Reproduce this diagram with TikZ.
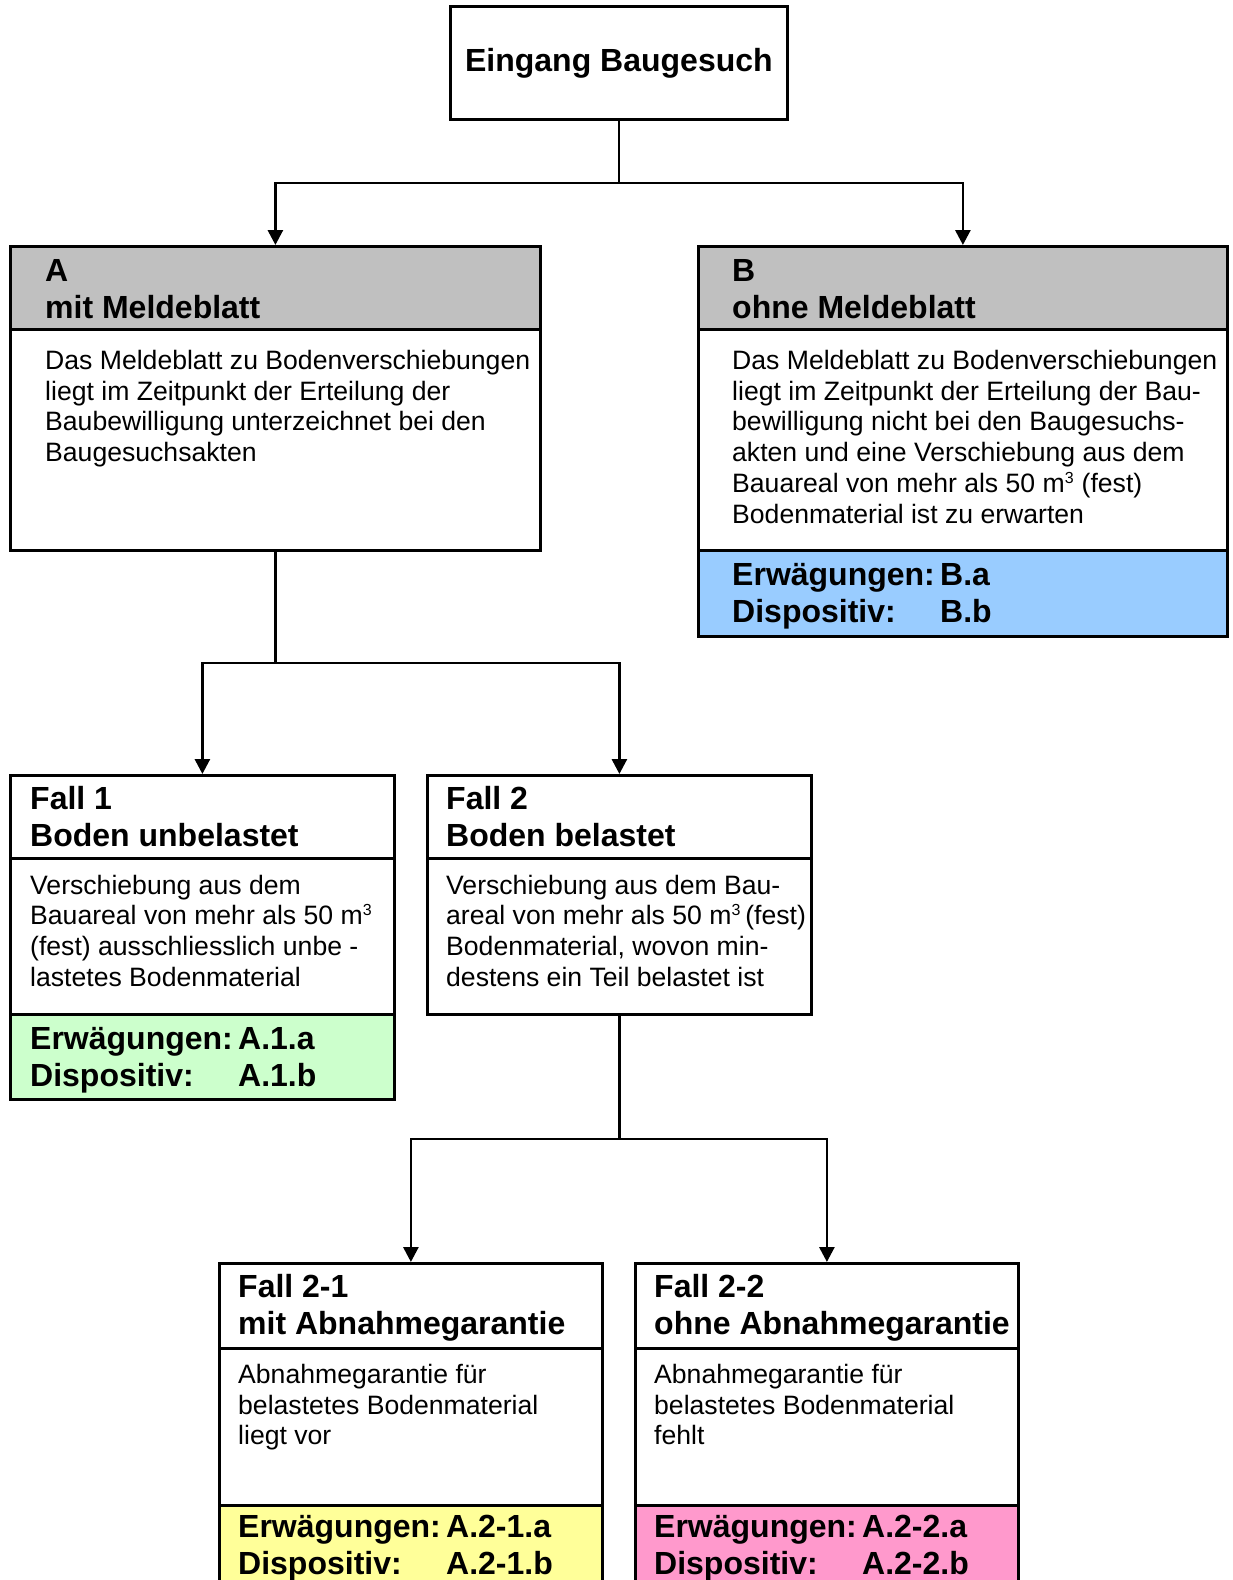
\documentclass[tikz,border=0pt]{standalone}
\usepackage{fontspec}
\setmainfont{Liberation Sans}
\usetikzlibrary{arrows.meta, positioning, calc}

\definecolor{kopfgrau}{HTML}{C0C0C0}
\definecolor{blau}{HTML}{99CCFF}
\definecolor{gruen}{HTML}{CCFFCC}
\definecolor{gelb}{HTML}{FFFF99}
\definecolor{rosa}{HTML}{FF99CC}

\newcommand{\kopffont}{\fontsize{32}{37}\selectfont\bfseries}
\newcommand{\inhaltfont}{\fontsize{26.6}{30.7}\selectfont}
\newcommand{\kubik}{m\textsuperscript{\fontsize{16}{16}\selectfont 3}}
\newcommand{\zeilen}[1]{\begin{tabular}[t]{@{}l@{}}#1\end{tabular}}
\newcommand{\verweis}[2]{\zeilen{\makebox[208pt][l]{Erwägungen:}#1\\\makebox[208pt][l]{Dispositiv:}#2}}

\tikzset{
    rahmen/.style 2 args={draw, line width=2.8pt, anchor=north west, inner sep=0pt,
        minimum width=#1, minimum height=#2},
    titel/.style={anchor=base west, inner sep=0pt, font=\kopffont},
    inhalt/.style={anchor=base west, inner sep=0pt, font=\inhaltfont},
    linie/.style={line width=2.8pt},
    pfeil/.style={line width=2.8pt, -{Triangle[width=15pt,length=15pt]}}
}

\begin{document}
\begin{tikzpicture}[x=1pt, y=-1pt]
    \useasboundingbox (0,0) rectangle (1233,1580);
    \begin{scope}
    \clip (0,0) rectangle (1233,1580);

    % Eingang
    \node[rahmen={337pt}{113pt}, font=\kopffont] (start) at (449,5) {Eingang Baugesuch};

    % A und B
    \node[rahmen={530pt}{83pt}, fill=kopfgrau] (Akopf) at (9,245) {};
    \node[rahmen={530pt}{221pt}] (Afeld) at (9,328) {};
    \node[rahmen={529pt}{83pt}, fill=kopfgrau] (Bkopf) at (697,245) {};
    \node[rahmen={529pt}{221pt}] (Bfeld) at (697,328) {};
    \node[rahmen={529pt}{86pt}, fill=blau] (Bfuss) at (697,549) {};

    \node[titel] (Atitel) at ([shift={(36,36.5)}]Akopf.north west) {\zeilen{A\\mit Meldeblatt}};
    \node[inhalt] (Atext) at ([shift={(36,41.5)}]Afeld.north west)
        {\zeilen{Das Meldeblatt zu Bodenverschiebungen\\liegt im Zeitpunkt der Erteilung der\\
         Baubewilligung unterzeichnet bei den\\Baugesuchsakten}};
    \node[titel] (Btitel) at ([shift={(35,36.5)}]Bkopf.north west) {\zeilen{B\\ohne Meldeblatt}};
    \node[inhalt] (Btext) at ([shift={(35,41.5)}]Bfeld.north west)
        {\zeilen{Das Meldeblatt zu Bodenverschiebungen\\liegt im Zeitpunkt der Erteilung der Bau-\\
         bewilligung nicht bei den Baugesuchs-\\akten und eine Verschiebung aus dem\\
         Bauareal von mehr als 50 \kubik{} (fest)\\Bodenmaterial ist zu erwarten}};
    \node[titel] (Bverweis) at ([shift={(35,36.5)}]Bfuss.north west) {\verweis{B.a}{B.b}};

    % Fall 1 und Fall 2
    \node[rahmen={384pt}{83pt}] (F1kopf) at (9,774) {};
    \node[rahmen={384pt}{156pt}] (F1feld) at (9,857) {};
    \node[rahmen={384pt}{85pt}, fill=gruen] (F1fuss) at (9,1013) {};
    \node[rahmen={384pt}{83pt}] (F2kopf) at (426,774) {};
    \node[rahmen={384pt}{156pt}] (F2feld) at (426,857) {};

    \node[titel] (F1titel) at ([shift={(21,35.5)}]F1kopf.north west) {\zeilen{Fall 1\\Boden unbelastet}};
    \node[inhalt] (F1text) at ([shift={(21,37)}]F1feld.north west)
        {\zeilen{Verschiebung aus dem\\Bauareal von mehr als 50 \kubik\\
         (fest) ausschliesslich unbe -\\lastetes Bodenmaterial}};
    \node[titel] (F1verweis) at ([shift={(21,36.5)}]F1fuss.north west) {\verweis{A.1.a}{A.1.b}};
    \node[titel] (F2titel) at ([shift={(20,35.5)}]F2kopf.north west) {\zeilen{Fall 2\\Boden belastet}};
    \node[inhalt] (F2text) at ([shift={(20,37)}]F2feld.north west)
        {\zeilen{Verschiebung aus dem Bau-\\areal von mehr als 50 \kubik\,(fest)\\
         Bodenmaterial, wovon min-\\destens ein Teil belastet ist}};

    % Fall 2-1 und Fall 2-2
    \node[rahmen={383pt}{85pt}] (F21kopf) at (218,1262) {};
    \node[rahmen={383pt}{157pt}] (F21feld) at (218,1347) {};
    \node[rahmen={383pt}{90pt}, fill=gelb] (F21fuss) at (218,1504) {};
    \node[rahmen={383pt}{85pt}] (F22kopf) at (634,1262) {};
    \node[rahmen={383pt}{157pt}] (F22feld) at (634,1347) {};
    \node[rahmen={383pt}{90pt}, fill=rosa] (F22fuss) at (634,1504) {};

    \node[titel] (F21titel) at ([shift={(20,35)}]F21kopf.north west) {\zeilen{Fall 2-1\\mit Abnahmegarantie}};
    \node[inhalt] (F21text) at ([shift={(20,36.5)}]F21feld.north west)
        {\zeilen{Abnahmegarantie für\\belastetes Bodenmaterial\\liegt vor}};
    \node[titel] (F21verweis) at ([shift={(20,33.5)}]F21fuss.north west) {\verweis{A.2-1.a}{A.2-1.b}};
    \node[titel] (F22titel) at ([shift={(20,35)}]F22kopf.north west) {\zeilen{Fall 2-2\\ohne Abnahmegarantie}};
    \node[inhalt] (F22text) at ([shift={(20,36.5)}]F22feld.north west)
        {\zeilen{Abnahmegarantie für\\belastetes Bodenmaterial\\fehlt}};
    \node[titel] (F22verweis) at ([shift={(20,33.5)}]F22fuss.north west) {\verweis{A.2-2.a}{A.2-2.b}};

    % Verbindungen
    \coordinate (j1) at ($(start.south)!0.5!(start.south |- Akopf.north)$);
    \draw[linie] (start.south) -- (j1);
    \draw[pfeil] (j1) -| (Akopf.north);
    \draw[pfeil] (j1) -| (Bkopf.north);

    \coordinate (j2) at ($(Afeld.south)!0.5!(Afeld.south |- F1kopf.north)$);
    \draw[linie] (Afeld.south) -- (j2);
    \draw[pfeil] (j2) -| (F1kopf.north);
    \draw[pfeil] (j2) -| (F2kopf.north);

    \coordinate (j3) at ($(F2feld.south)!0.5!(F2feld.south |- F21kopf.north)$);
    \draw[linie] (F2feld.south) -- (j3);
    \draw[pfeil] (j3) -| (F21kopf.north);
    \draw[pfeil] (j3) -| (F22kopf.north);
    \end{scope}
\end{tikzpicture}
\end{document}
